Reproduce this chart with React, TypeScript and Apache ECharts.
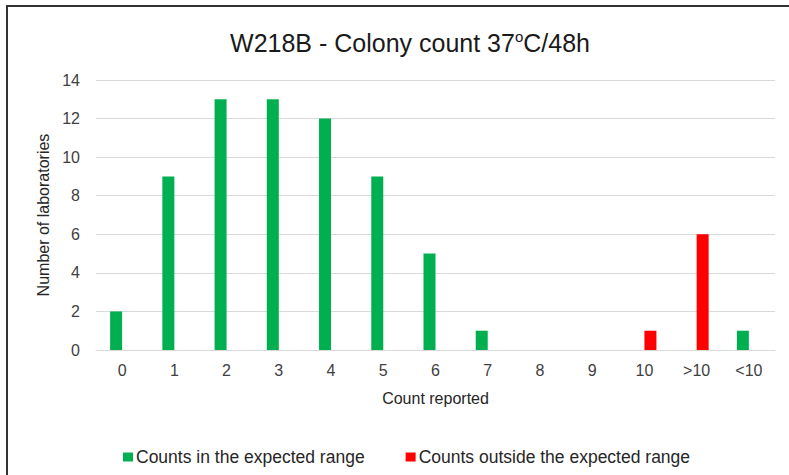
import React, { useEffect, useRef } from "react";
import * as echarts from "echarts";

const categories = ["0", "1", "2", "3", "4", "5", "6", "7", "8", "9", "10", ">10", "<10"];
const inRange = [2, 9, 13, 13, 12, 9, 5, 1, 0, 0, 0, 0, 1];
const outsideRange = [0, 0, 0, 0, 0, 0, 0, 0, 0, 0, 1, 6, 0];
const yTicks = { min: 0, max: 14, interval: 2 };

const FONT = "'Liberation Sans', Arial, sans-serif";

export default function App() {
  const ref = useRef<HTMLDivElement>(null);
  useEffect(() => {
    if (!ref.current) return;
    const chart = echarts.init(ref.current, null, { renderer: "svg" });
    chart.setOption({
      animation: false,
      backgroundColor: "#ffffff",
      textStyle: { fontFamily: FONT },
      title: {
        text: "W218B - Colony count 37{sup|o}C/48h",
        left: 405,
        textAlign: "center",
        top: 24,
        textStyle: {
          fontFamily: FONT,
          fontSize: 25,
          fontWeight: "normal",
          color: "#1a1a1a",
          lineHeight: 28,
          rich: {
            sup: { fontFamily: FONT, fontSize: 15, color: "#1a1a1a", verticalAlign: "top", lineHeight: 16 },
          },
        },
      },
      graphic: [
        {
          type: "rect",
          shape: { x: 7, y: 6, width: 820, height: 520 },
          style: { fill: "none", stroke: "#333333", lineWidth: 2 },
          silent: true,
          z: 100,
        },
      ],
      legend: {
        left: 118,
        top: 443,
        itemWidth: 10,
        itemHeight: 9,
        itemGap: 41,
        icon: "rect",
        textStyle: { fontFamily: FONT, fontSize: 17.5, color: "#262626", padding: [0, 0, 0, -2] },
        data: ["Counts in the expected range", "Counts outside the expected range"],
      },
      grid: { left: 96, right: 14, top: 80, bottom: 125, containLabel: false },
      xAxis: {
        type: "category",
        data: categories,
        name: "Count reported",
        nameLocation: "middle",
        nameGap: 40,
        nameTextStyle: { fontFamily: FONT, fontSize: 16, color: "#262626" },
        axisLine: { lineStyle: { color: "#d9d9d9", width: 1 } },
        axisTick: { show: false },
        axisLabel: { fontFamily: FONT, fontSize: 16, color: "#404040", margin: 12 },
      },
      yAxis: {
        type: "value",
        min: yTicks.min,
        max: yTicks.max,
        interval: yTicks.interval,
        name: "Number of laboratories",
        nameLocation: "middle",
        nameGap: 44,
        nameTextStyle: { fontFamily: FONT, fontSize: 16, color: "#262626" },
        axisLine: { show: false },
        axisTick: { show: false },
        axisLabel: { fontFamily: FONT, fontSize: 16, color: "#404040", margin: 16 },
        splitLine: { lineStyle: { color: "#d9d9d9", width: 1 } },
      },
      series: [
        {
          name: "Counts in the expected range",
          type: "bar",
          data: inRange,
          barWidth: 12,
          barGap: "0%",
          itemStyle: { color: "#00B050" },
        },
        {
          name: "Counts outside the expected range",
          type: "bar",
          data: outsideRange,
          barWidth: 12,
          barGap: "0%",
          itemStyle: { color: "#FF0000" },
        },
      ],
    });
    return () => chart.dispose();
  }, []);
  return (
    <div
      ref={ref}
      style={{ position: "absolute", left: 0, top: 0, width: 789, height: 475, background: "#fff" }}
    />
  );
}
